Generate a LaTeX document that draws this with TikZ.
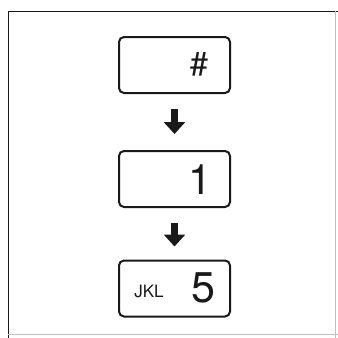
\documentclass[tikz,border=0pt]{standalone}
\usepackage{fontspec}
\setmainfont{TeX Gyre Heros}
\usepackage{tikz}
\usetikzlibrary{arrows.meta, calc}
\colorlet{ink}{black!90}
\colorlet{edge}{black!25}

\begin{document}
\begin{tikzpicture}[x=1pt, y=-1pt,
    key/.style={draw=ink, line width=2pt, rounded corners=5pt,
      minimum width=111pt, minimum height=56pt, inner sep=0pt},
    step arrow/.style={ink, line width=7pt,
      -{Triangle[width=21pt, length=12pt]}}]

  % --- page and its frame ----------------------------------------------------
  \useasboundingbox (0,0) rectangle (338,338);
  \draw[ink, line width=1pt] (8,338) -- (8,11) -- (338,11);
  \draw[edge, line width=0.6pt] (335,11) -- (335,338);
  \draw[edge, line width=0.6pt] (8,334) -- (338,334);

  % --- the three keys pressed in turn ----------------------------------------
  \node[key] (hash) at (174.5,65) {};
  \node[key] (one) at (174.5,179) {};
  \node[key] (five) at (174.5,288.5) {};

  \node[ink, font=\fontsize{33}{33}\selectfont] (hashsym) at (199,64) {\#};
  \node[ink, font=\fontsize{42}{42}\selectfont] (onesym) at (200,180) {1};
  \node[ink, font=\fontsize{43}{43}\selectfont] (fivesym) at (203,288) {5};
  \node[ink, font=\fontsize{17}{17}\selectfont] (jkl) at (149,291) {JKL};

  % --- order of the keys -----------------------------------------------------
  \draw[step arrow, shorten <=15pt, shorten >=16pt] (hash.south) -- (one.north);
  \draw[step arrow, shorten <=15pt, shorten >=13pt] (one.south) -- (five.north);

\end{tikzpicture}
\end{document}
